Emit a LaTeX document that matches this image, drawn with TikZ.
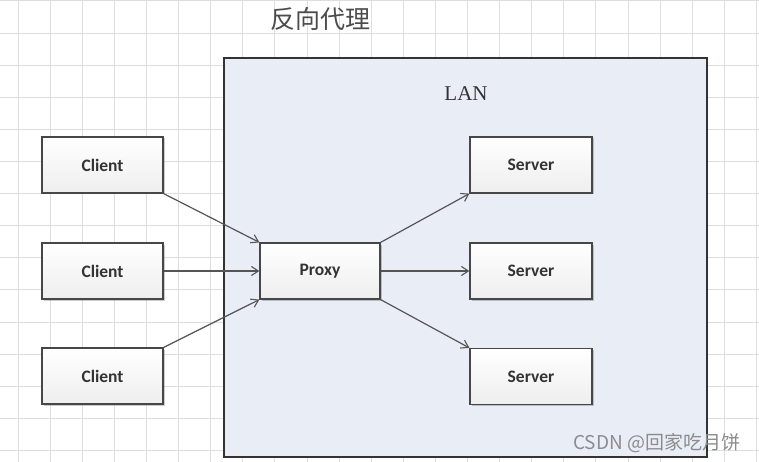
\documentclass[tikz,border=0pt]{standalone}
\usepackage{fontspec}
\setmainfont{Liberation Serif}
\newfontfamily\boxfont{Carlito}
\newfontfamily\cjk{Noto Sans CJK SC}
\usetikzlibrary{arrows.meta,shadows}
\definecolor{gridc}{HTML}{DEDEDE}
\definecolor{lanfill}{HTML}{E9EEF6}
\definecolor{edgec}{HTML}{555555}
\definecolor{txt}{HTML}{333333}
\definecolor{boxbot}{HTML}{EEEEEE}
\tikzset{
  boxnode/.style={draw=txt!90, line width=1.2pt, minimum width=121pt, minimum height=56pt,
    top color=white, bottom color=boxbot, inner sep=0pt,
    drop shadow={shadow xshift=1.5pt, shadow yshift=-1.5pt, opacity=0.2, fill=black},
    font=\boxfont\bfseries\fontsize{17.5}{20}\selectfont, text=txt},
  link/.style={draw=edgec, line width=1.2pt, -{Straight Barb[length=7pt,width=9pt,line width=1.1pt]}},
}
\begin{document}
\begin{tikzpicture}[x=1pt,y=-1pt]
\useasboundingbox (0,0) rectangle (759,462);
\fill[white] (0,0) rectangle (759,462);
% grid
\foreach \k in {0,...,23} {
  \draw[gridc, line width=0.8pt] ({18+32.1*\k},0) -- ({18+32.1*\k},462);
}
\foreach \k in {0,...,14} {
  \draw[gridc, line width=0.8pt] (0,{0.9+32.1*\k}) -- (759,{0.9+32.1*\k});
}
% title
\node[font=\cjk\fontsize{25}{28}\selectfont, text=black!70] (title) at (320,19) {反向代理};
% LAN
\draw[fill=lanfill, draw=txt, line width=1.5pt] (224,58) rectangle (707,457);
\node[font=\fontsize{21}{24}\selectfont, text=txt] (lan) at (466,94) {LAN};
% nodes
\node[boxnode] (c1) at (102.5,165) {Client};
\node[boxnode] (c2) at (102.5,271) {Client};
\node[boxnode] (c3) at (102.5,376) {Client};
\node[boxnode, minimum width=120pt] (px) at (320,271) {Proxy};
\node[boxnode, minimum width=122pt] (s1) at (531,165) {Server};
\node[boxnode, minimum width=122pt] (s2) at (531,271) {Server};
\node[boxnode, minimum width=122pt] (s3) at (531,376.5) {Server};
% links
\draw[link] (c1.south east) -- (px.north west);
\draw[link] (c2.east) -- (px.west);
\draw[link] (c3.north east) -- (px.south west);
\draw[link] (px.north east) -- (s1.south west);
\draw[link] (px.east) -- (s2.west);
\draw[link] (px.south east) -- (s3.north west);
% watermark
\node[anchor=west, font=\cjk\fontsize{19}{22}\selectfont, text=black!45, inner sep=0pt] (wm) at (573,443) {CSDN @回家吃月饼};
\end{tikzpicture}
\end{document}
